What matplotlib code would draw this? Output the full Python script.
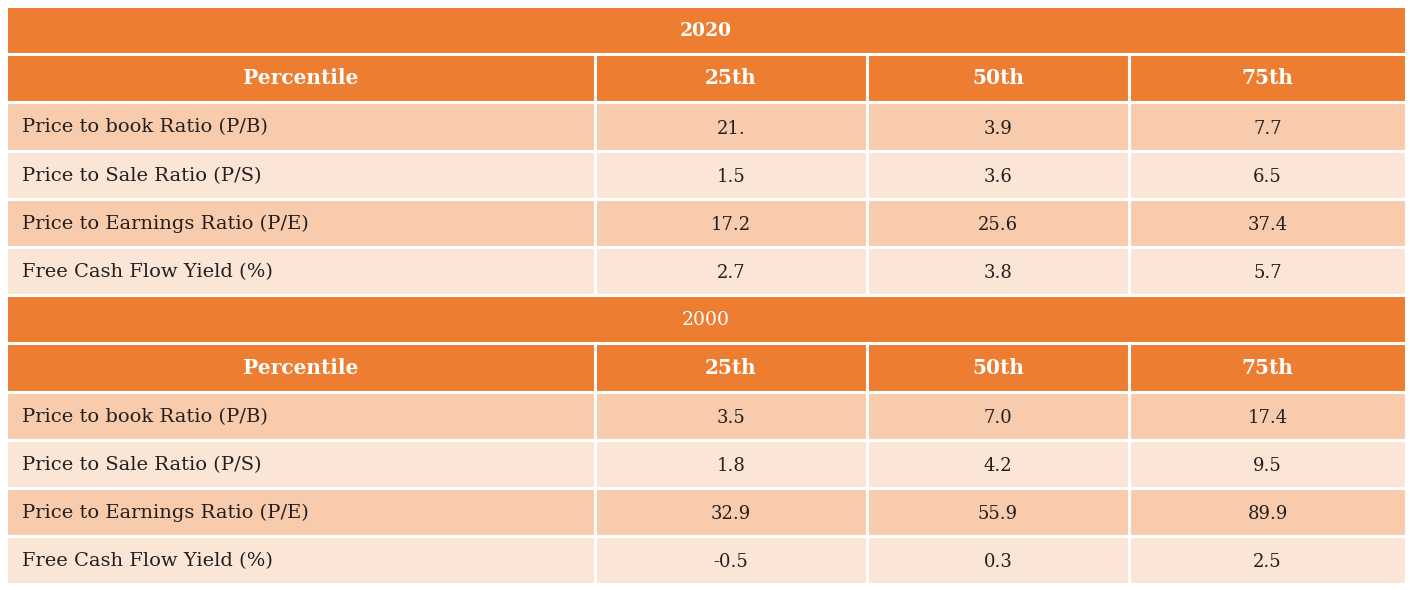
import matplotlib
matplotlib.use("Agg")
import matplotlib.pyplot as plt
from matplotlib.patches import Rectangle

years = ["2020", "2000"]
year_bold = [True, False]
header_label = "Percentile"
percentiles = ["25th", "50th", "75th"]
metrics = ["Price to book Ratio (P/B)", "Price to Sale Ratio (P/S)",
           "Price to Earnings Ratio (P/E)", "Free Cash Flow Yield (%)"]
values_2020 = [["21.", "3.9", "7.7"],
               ["1.5", "3.6", "6.5"],
               ["17.2", "25.6", "37.4"],
               ["2.7", "3.8", "5.7"]]
values_2000 = [["3.5", "7.0", "17.4"],
               ["1.8", "4.2", "9.5"],
               ["32.9", "55.9", "89.9"],
               ["-0.5", "0.3", "2.5"]]
blocks = [values_2020, values_2000]

ORANGE = "#ED7D31"
DARK = "#F8CBAD"
LIGHT = "#FBE5D6"
TXT = "#231F20"
FONT = "DejaVu Serif"

W, H = 1410, 590
fig = plt.figure(figsize=(W / 100, H / 100), dpi=100)
ax = fig.add_axes([0, 0, 1, 1])
ax.set_xlim(0, W)
ax.set_ylim(H, 0)
ax.axis("off")

col_edges = [6, 595, 867, 1129, 1406]
top = 6
row_h = 48.2
lw = 2.2

def cell(x0, x1, y0, color):
    ax.add_patch(Rectangle((x0, y0), x1 - x0, row_h, facecolor=color,
                           edgecolor="white", linewidth=lw))

row = 0
for b, (yr, bold, vals) in enumerate(zip(years, year_bold, blocks)):
    y0 = top + row * row_h
    cell(col_edges[0], col_edges[-1], y0, ORANGE)
    ax.text((col_edges[0] + col_edges[-1]) / 2, y0 + row_h / 2 + 1, yr,
            color="white", fontsize=13.5, family=FONT,
            fontweight="bold" if bold else "normal", ha="center", va="center")
    row += 1
    y0 = top + row * row_h
    labels = [header_label] + percentiles
    for c in range(4):
        cell(col_edges[c], col_edges[c + 1], y0, ORANGE)
        ax.text((col_edges[c] + col_edges[c + 1]) / 2, y0 + row_h / 2, labels[c],
                color="white", fontsize=14.5, family=FONT, fontweight="bold",
                ha="center", va="center")
    row += 1
    for r, (m, vrow) in enumerate(zip(metrics, vals)):
        y0 = top + row * row_h
        color = DARK if r % 2 == 0 else LIGHT
        for c in range(4):
            cell(col_edges[c], col_edges[c + 1], y0, color)
        ax.text(col_edges[0] + 16, y0 + row_h / 2 + 1, m, color=TXT,
                fontsize=14, family=FONT, ha="left", va="center")
        for c, v in enumerate(vrow):
            ax.text((col_edges[c + 1] + col_edges[c + 2]) / 2, y0 + row_h / 2 + 2, v,
                    color=TXT, fontsize=13, family=FONT, ha="center", va="center")
        row += 1

fig.savefig("out.png", dpi=100, facecolor="white")
